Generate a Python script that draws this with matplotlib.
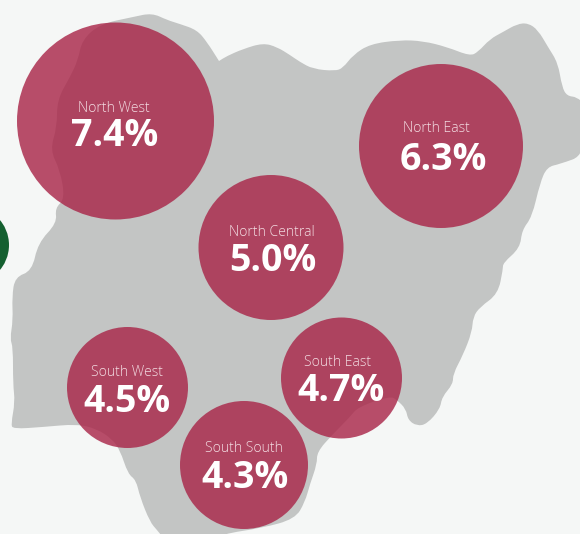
import matplotlib
matplotlib.use("Agg")
import matplotlib.pyplot as plt
from matplotlib.patches import Circle, PathPatch
from matplotlib.path import Path

regions = ["North West", "North East", "North Central", "South West", "South East", "South South"]
values = [7.4, 6.3, 5.0, 4.5, 4.7, 4.3]
centre_x = [115.5, 441, 271, 127.5, 341.5, 244]
centre_y = [121, 146, 247.5, 387.5, 378, 465]
radii = [98.5, 82, 72.5, 60.5, 60.5, 64]
label_x = [114, 436, 272, 127, 338, 244]
label_y = [108, 129, 232, 373, 363, 449]
value_x = [115, 443, 272.5, 127, 341, 245]
value_y = [136, 160.5, 261, 401.5, 391, 478]

outline_x = [152, 167, 180, 197, 207, 219, 219, 227, 243, 263, 277, 290, 300, 313, 335, 343, 353, 370, 400, 423, 447,
             470, 478, 490, 503, 517, 528, 538, 548, 558, 562, 567, 577, 585, 585, 560, 547, 540, 532, 522, 520,
             503, 503, 498, 480, 473, 472, 463, 453, 453, 442, 440, 427, 417, 408, 406, 397, 390, 358, 350, 332,
             317, 317, 310, 305, 295, 262, 222, 200, 165, 157, 150, 140, 136, 128, 120, 112, 97, 77, 43, 13,
             11, 15, 13, 13, 10, 13, 12, 15, 32, 38, 57, 55, 65, 60, 50, 57, 57, 70, 78, 82, 100, 133]
outline_y = [13, 20, 24, 30, 42, 61, 61, 56, 49, 43, 47, 55, 62, 69, 71, 68, 55, 44, 40, 41, 47,
             56, 52, 39, 32, 24, 23, 30, 47, 63, 87, 96, 97, 105, 155, 164, 167, 183, 217, 230, 248,
             263, 269, 294, 307, 317, 332, 355, 374, 384, 397, 409, 424, 426, 420, 409, 400, 396, 407, 417, 435,
             452, 464, 484, 502, 519, 528, 534, 545, 540, 530, 522, 497, 480, 474, 450, 439, 429, 424, 427, 429,
             424, 402, 384, 347, 339, 320, 297, 277, 271, 243, 223, 208, 199, 170, 150, 127, 100, 77, 60, 40, 24, 17]

BG = "#F5F7F6"
MAP = "#C3C5C4"
BUBBLE = "#A82346"
OUTSIDE = "#146030"


def smooth(xs, ys):
    pts = list(zip(xs, ys))
    n = len(pts)
    mid = lambda a, b: ((a[0] + b[0]) / 2, (a[1] + b[1]) / 2)
    verts = [mid(pts[-1], pts[0])]
    codes = [Path.MOVETO]
    for i in range(n):
        verts += [pts[i], mid(pts[i], pts[(i + 1) % n])]
        codes += [Path.CURVE3, Path.CURVE3]
    return Path(verts, codes)


fig = plt.figure(figsize=(5.8, 5.34), dpi=100, facecolor=BG)
ax = fig.add_axes([0, 0, 1, 1])
ax.set_xlim(0, 580)
ax.set_ylim(534, 0)
ax.axis("off")

ax.add_patch(PathPatch(smooth(outline_x, outline_y), facecolor=MAP, edgecolor="none", zorder=1))
ax.add_patch(Circle((-30, 245), 39, facecolor=OUTSIDE, edgecolor="none", zorder=2))

for i, name in enumerate(regions):
    ax.add_patch(Circle((centre_x[i], centre_y[i]), radii[i], facecolor=BUBBLE, edgecolor="none",
                        alpha=0.8, zorder=3))
    ax.text(label_x[i], label_y[i], name, color="#F3DCE2", fontsize=10.1, family="Open Sans", fontweight="light",
            ha="center", va="center", zorder=4)
    ax.text(value_x[i], value_y[i], f"{values[i]:.1f}%", color="white", fontsize=27, family="Open Sans",
            fontweight="bold", ha="center", va="center", zorder=4)

fig.savefig("out.png", dpi=100, facecolor=BG)
